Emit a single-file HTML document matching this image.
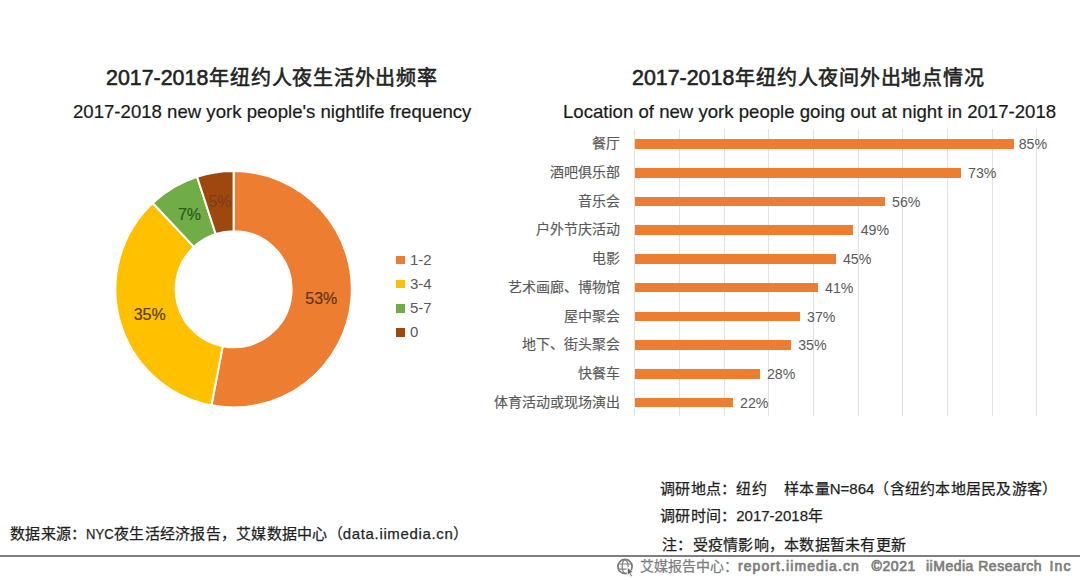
<!DOCTYPE html>
<html lang="zh-CN">
<head>
<meta charset="utf-8">
<style>
html,body{margin:0;padding:0;background:#fff;}
body{width:1080px;height:580px;position:relative;overflow:hidden;font-family:"Liberation Sans",sans-serif;color:#262626;}
.a{position:absolute;white-space:nowrap;line-height:1;}
.t1{font-weight:normal;font-size:20px;letter-spacing:0.76px;color:#222;-webkit-text-stroke:0.55px #222;}
.t1 .l{font-size:21.4px;letter-spacing:0;margin-right:1px;}
.t2{font-size:18.6px;color:#1a1a1a;-webkit-text-stroke:0.2px #1a1a1a;}
.cat{font-size:14px;color:#595959;text-align:right;-webkit-text-stroke:0.15px #595959;}
.val{font-size:14.2px;color:#595959;}
.bar{position:absolute;height:10px;background:#ED7D31;}
.grid{position:absolute;width:1px;background:#e2e2e2;}
.lg{position:absolute;width:9px;height:8.5px;}
.lt{font-size:15px;color:#595959;}
.ft{font-size:15px;letter-spacing:0.25px;color:#1f1f1f;-webkit-text-stroke:0.25px #1f1f1f;}
.ft .n{letter-spacing:0;}
.gr{font-size:14px;color:#7d7d7d;-webkit-text-stroke:0.7px #7d7d7d;}
</style>
</head>
<body>
<div class="a t1" style="left:106px;top:68px;"><span class="l">2017-2018</span>年纽约人夜生活外出频率</div>
<div class="a t2" style="left:73px;top:102.7px;">2017-2018 new york people's nightlife frequency</div>
<div class="a t1" style="left:632px;top:68px;"><span class="l">2017-2018</span>年纽约人夜间外出地点情况</div>
<div class="a t2" style="left:563px;top:102.5px;">Location of new york people going out at night in 2017-2018</div>

<svg class="a" style="left:0;top:0" width="540" height="480" viewBox="0 0 540 480">
  <g stroke="#fff" stroke-width="2.0" stroke-linejoin="round">
    <path fill="#ED7D31" d="M233.60,171.00 A118.2,118.2 0 1 1 211.45,405.31 L222.73,346.17 A58.0,58.0 0 1 0 233.60,231.20 Z"/><path fill="#FFC000" d="M211.45,405.31 A118.2,118.2 0 0 1 152.69,203.04 L193.90,246.92 A58.0,58.0 0 0 0 222.73,346.17 Z"/><path fill="#70AD47" d="M152.69,203.04 A118.2,118.2 0 0 1 197.07,176.79 L215.68,234.04 A58.0,58.0 0 0 0 193.90,246.92 Z"/><path fill="#9E480E" d="M197.07,176.79 A118.2,118.2 0 0 1 233.60,171.00 L233.60,231.20 A58.0,58.0 0 0 0 215.68,234.04 Z"/>
  </g>
  <g font-family="Liberation Sans, sans-serif" font-size="16" text-anchor="middle">
    <text x="321.3" y="303.6" fill="#5e3518" stroke="#5e3518" stroke-width="0.2">53%</text>
    <text x="149.7" y="319.8" fill="#54400a" stroke="#54400a" stroke-width="0.2">35%</text>
    <text x="189.5" y="219.8" fill="#285a1c" stroke="#285a1c" stroke-width="0.2">7%</text>
    <text x="220" y="206.8" fill="#7e3a1c">5%</text>
  </g>
</svg>

<div class="lg" style="left:396px;top:255.6px;background:#ED7D31"></div>
<div class="a lt" style="left:410px;top:252px;">1-2</div>
<div class="lg" style="left:396px;top:279.8px;background:#FFC000"></div>
<div class="a lt" style="left:410px;top:276px;">3-4</div>
<div class="lg" style="left:396px;top:304px;background:#70AD47"></div>
<div class="a lt" style="left:410px;top:300px;">5-7</div>
<div class="lg" style="left:396px;top:328.2px;background:#9E480E"></div>
<div class="a lt" style="left:410px;top:324px;">0</div>

<div class="grid" style="left:634.3px;top:129px;height:287px"></div><div class="grid" style="left:679.0px;top:129px;height:287px"></div><div class="grid" style="left:723.6px;top:129px;height:287px"></div><div class="grid" style="left:768.3px;top:129px;height:287px"></div><div class="grid" style="left:813.0px;top:129px;height:287px"></div><div class="grid" style="left:857.6px;top:129px;height:287px"></div><div class="grid" style="left:902.3px;top:129px;height:287px"></div><div class="grid" style="left:947.0px;top:129px;height:287px"></div><div class="grid" style="left:991.7px;top:129px;height:287px"></div><div class="grid" style="left:1036.3px;top:129px;height:287px"></div>
<div class="bar" style="left:634.5px;top:139.3px;width:379.8px;height:9.7px"></div>
<div class="a cat" style="right:460px;top:136.3px">餐厅</div>
<div class="a val" style="left:1018.7px;top:137.3px">85%</div>
<div class="bar" style="left:634.5px;top:168.0px;width:326.2px;height:9.7px"></div>
<div class="a cat" style="right:460px;top:165.0px">酒吧俱乐部</div>
<div class="a val" style="left:968.0px;top:166.0px">73%</div>
<div class="bar" style="left:634.5px;top:196.7px;width:250.2px;height:9.7px"></div>
<div class="a cat" style="right:460px;top:193.7px">音乐会</div>
<div class="a val" style="left:892.0px;top:194.7px">56%</div>
<div class="bar" style="left:634.5px;top:225.4px;width:218.9px;height:9.7px"></div>
<div class="a cat" style="right:460px;top:222.4px">户外节庆活动</div>
<div class="a val" style="left:860.7px;top:223.4px">49%</div>
<div class="bar" style="left:634.5px;top:254.1px;width:201.1px;height:9.7px"></div>
<div class="a cat" style="right:460px;top:251.1px">电影</div>
<div class="a val" style="left:842.9px;top:252.1px">45%</div>
<div class="bar" style="left:634.5px;top:282.8px;width:183.2px;height:9.7px"></div>
<div class="a cat" style="right:460px;top:279.8px">艺术画廊、博物馆</div>
<div class="a val" style="left:825.0px;top:280.8px">41%</div>
<div class="bar" style="left:634.5px;top:311.5px;width:165.3px;height:9.7px"></div>
<div class="a cat" style="right:460px;top:308.5px">屋中聚会</div>
<div class="a val" style="left:807.1px;top:309.5px">37%</div>
<div class="bar" style="left:634.5px;top:340.2px;width:156.4px;height:9.7px"></div>
<div class="a cat" style="right:460px;top:337.2px">地下、街头聚会</div>
<div class="a val" style="left:798.2px;top:338.2px">35%</div>
<div class="bar" style="left:634.5px;top:368.9px;width:125.1px;height:9.7px"></div>
<div class="a cat" style="right:460px;top:365.9px">快餐车</div>
<div class="a val" style="left:766.9px;top:366.9px">28%</div>
<div class="bar" style="left:634.5px;top:397.6px;width:98.3px;height:9.7px"></div>
<div class="a cat" style="right:460px;top:394.6px">体育活动或现场演出</div>
<div class="a val" style="left:740.1px;top:395.6px">22%</div>

<div class="a ft" style="left:10px;top:525.5px;">数据来源：<span class="n" style="display:inline-block;transform:scaleX(0.87);transform-origin:0 0;margin-right:-3.9px">NYC</span>夜生活经济报告，艾媒数据中心（<span class="n" style="letter-spacing:0.65px">data.iimedia.cn</span>）</div>
<div class="a ft" style="left:660px;top:481px;">调研地点：纽约</div>
<div class="a ft" style="left:784px;top:481px;">样本量<span class="n">N=864</span>（含纽约本地居民及游客）</div>
<div class="a ft" style="left:660px;top:508px;">调研时间：<span class="n">2017-2018</span>年</div>
<div class="a ft" style="left:662px;top:536.5px;">注：受疫情影响，本数据暂未有更新</div>
<div style="position:absolute;left:0;top:555px;width:1080px;height:2px;background:#7f7f7f"></div>
<svg class="a" style="left:615px;top:557px" width="22" height="22" viewBox="0 0 22 22">
  <circle cx="10" cy="9.5" r="7.1" fill="none" stroke="#777" stroke-width="1.7"/>
  <g fill="none" stroke="#808080" stroke-width="1.2">
    <path d="M3.2,7 H16.8 M3.2,12.2 H11.5"/>
    <path d="M10,2.6 C6.2,5 6.2,14 10,16.4"/>
    <path d="M10,2.6 C12.6,4.5 13.3,7 13.2,10"/>
  </g>
  <path d="M12.3,10.3 L18.6,15.4 L15.7,15.8 L17.5,19.1 L16.0,19.9 L14.3,16.6 L12.4,18.5 Z" fill="#666" stroke="#fff" stroke-width="0.8" stroke-linejoin="round"/>
</svg>
<div class="a gr" style="left:640px;top:559px;"><span style="-webkit-text-stroke:0.25px #7d7d7d">艾媒报告中心：</span><span style="letter-spacing:1.08px">report.iimedia.cn</span></div>
<div class="a gr" style="left:871.5px;top:559px;letter-spacing:0.6px">©2021</div>
<div class="a gr" style="left:926px;top:559px;letter-spacing:0.5px">iiMedia Research</div>
<div class="a gr" style="left:1049.5px;top:559px;letter-spacing:1.2px">Inc</div>
</body>
</html>
